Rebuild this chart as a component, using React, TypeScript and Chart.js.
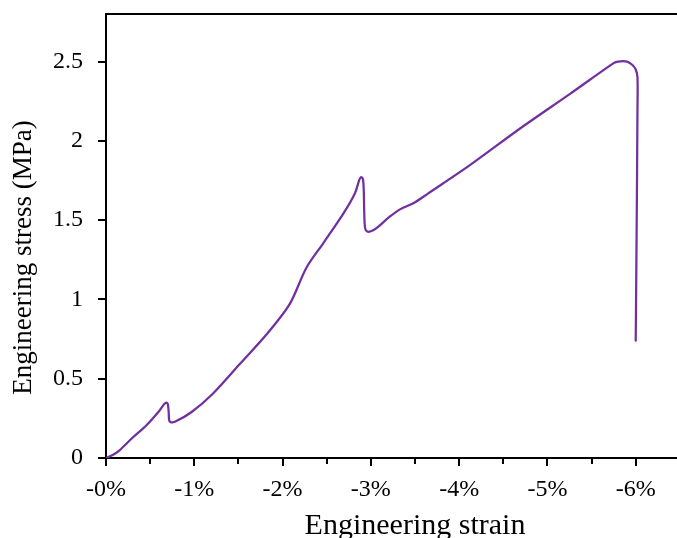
import { useEffect, useRef } from 'react';
import { Chart, registerables } from 'chart.js';

Chart.register(...registerables);

// Engineering strain (%) and engineering stress (MPa)
const strainPct = [
  0, -0.08, -0.153, -0.30, -0.456, -0.60, -0.66, -0.683, -0.70, -0.71, -0.715, -0.73, -0.78,
  -0.97, -1.21, -1.51, -1.82, -2.08, -2.27, -2.46, -2.69, -2.82, -2.87, -2.89, -2.91, -2.92,
  -2.925, -2.935, -2.96, -3.0, -3.06, -3.21, -3.33, -3.48, -3.65, -4.13, -4.69, -5.26, -5.75,
  -5.80, -5.90, -5.96, -6.0, -6.02, -6.02, -6.01, -6.0,
];
const stressMPa = [
  0, 0.02, 0.048, 0.128, 0.205, 0.295, 0.34, 0.35, 0.34, 0.29, 0.24, 0.226, 0.228,
  0.29, 0.405, 0.589, 0.78, 0.97, 1.2, 1.354, 1.543, 1.67, 1.755, 1.772, 1.76, 1.68,
  1.55, 1.45, 1.428, 1.43, 1.448, 1.52, 1.568, 1.606, 1.669, 1.85, 2.078, 2.298, 2.49,
  2.5, 2.5, 2.48, 2.45, 2.40, 2.2, 1.4, 0.74,
];

const xTickValues = [0, -1, -2, -3, -4, -5, -6];
const xMinorTickValues = [-0.5, -1.5, -2.5, -3.5, -4.5, -5.5, -6.5];
const yTickValues = [0, 0.5, 1, 1.5, 2, 2.5];

const xTitle = 'Engineering strain';
const yTitle = 'Engineering stress (MPa)';

const W = 724;
const H = 560;
const AREA_LEFT = 106;
const AREA_BOTTOM = 458;
const FONT = "'Liberation Serif', 'Times New Roman', serif";

export default function App() {
  const ref = useRef<HTMLCanvasElement>(null);

  useEffect(() => {
    const canvas = ref.current;
    if (!canvas) return;

    const framePlugin = {
      id: 'frame',
      beforeDatasetsDraw(chart: any) {
        const { ctx, chartArea, scales } = chart;
        const { left, right, top, bottom } = chartArea;
        const xs = scales.x;
        const ys = scales.y;
        ctx.save();
        ctx.strokeStyle = '#000';
        ctx.lineWidth = 2;
        ctx.beginPath();
        ctx.moveTo(left - 1, top);
        ctx.lineTo(right, top);
        ctx.lineTo(right, bottom);
        for (const v of xTickValues) {
          const px = Math.round(xs.getPixelForValue(v));
          ctx.moveTo(px, bottom);
          ctx.lineTo(px, bottom + 8);
        }
        for (const v of xMinorTickValues) {
          const px = Math.round(xs.getPixelForValue(v));
          ctx.moveTo(px, bottom);
          ctx.lineTo(px, bottom + 6);
        }
        for (const v of yTickValues) {
          const py = Math.round(ys.getPixelForValue(v));
          ctx.moveTo(left - 8, py);
          ctx.lineTo(left, py);
        }
        ctx.stroke();
        ctx.restore();
      },
      afterDraw(chart: any) {
        const { ctx } = chart;
        ctx.save();
        ctx.translate(24, 257.5);
        ctx.rotate(-Math.PI / 2);
        ctx.fillStyle = '#000';
        ctx.font = `27px ${FONT}`;
        ctx.textAlign = 'center';
        ctx.textBaseline = 'middle';
        ctx.fillText(yTitle, 0, 0);
        ctx.restore();
      },
    };

    const chart = new Chart(canvas, {
      type: 'scatter',
      data: {
        datasets: [
          {
            data: strainPct.map((x, i) => ({ x, y: stressMPa[i] })),
            showLine: true,
            borderColor: '#7030A0',
            backgroundColor: '#7030A0',
            borderWidth: 2.25,
            pointRadius: 0,
            pointHoverRadius: 0,
            tension: 0.3,
            fill: false,
            borderJoinStyle: 'round',
            borderCapStyle: 'round',
          } as any,
        ],
      },
      options: {
        responsive: false,
        animation: false,
        devicePixelRatio: 1,
        layout: { padding: { top: 14, left: 0, right: 0, bottom: 0 } },
        plugins: {
          legend: { display: false },
          tooltip: { enabled: false },
          title: { display: false },
        },
        scales: {
          x: {
            type: 'linear',
            reverse: true,
            min: -7,
            max: 0,
            afterBuildTicks: (s: any) => {
              s.ticks = xTickValues.map((value) => ({ value }));
            },
            afterFit: (s: any) => {
              s.height = H - AREA_BOTTOM;
              s.paddingLeft = 0;
              s.paddingRight = 0;
            },
            grid: { display: false, drawTicks: false },
            border: { display: true, color: '#000', width: 2 },
            ticks: {
              color: '#000',
              font: { family: FONT, size: 24 },
              padding: 17,
              maxRotation: 0,
              autoSkip: false,
              callback: (v: any) => (Number(v) === 0 ? '-0' : String(v)) + '%',
            },
            title: {
              display: true,
              text: xTitle,
              color: '#000',
              font: { family: FONT, size: 30 },
              padding: { top: 0, bottom: 16 },
            },
          },
          y: {
            type: 'linear',
            min: 0,
            max: 2.8,
            afterBuildTicks: (s: any) => {
              s.ticks = yTickValues.map((value) => ({ value }));
            },
            afterFit: (s: any) => {
              s.width = AREA_LEFT;
              s.paddingTop = 0;
              s.paddingBottom = 0;
            },
            grid: { display: false, drawTicks: false },
            border: { display: true, color: '#000', width: 2 },
            ticks: {
              color: '#000',
              font: { family: FONT, size: 24 },
              padding: 23,
              autoSkip: false,
              callback: (v: any) => String(v),
            },
            title: { display: false },
          },
        },
      },
      plugins: [framePlugin],
    } as any);

    return () => chart.destroy();
  }, []);

  return (
    <div
      style={{
        position: 'fixed',
        left: 0,
        top: 0,
        width: 677,
        height: 538,
        overflow: 'hidden',
        background: '#fff',
      }}
    >
      <canvas ref={ref} width={W} height={H} style={{ display: 'block', width: W, height: H }} />
    </div>
  );
}
